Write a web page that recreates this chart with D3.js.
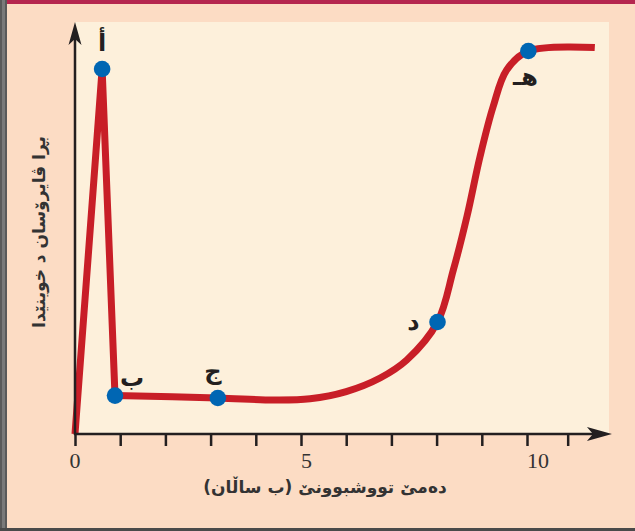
<!DOCTYPE html>
<html><head><meta charset="utf-8">
<script src="https://cdn.jsdelivr.net/npm/d3@7"></script>
<style>html,body{margin:0;padding:0;background:#fcdcc4;} svg{display:block;}</style>
</head><body>
<script>
// ---- data ----
const spikeX = [0, 0.6, 0.885];
const spikeY = [0, 91.25, 9.6];
const curveX = [0.885, 3.16, 4.4, 5.2, 6.0, 6.75, 7.34, 8.02, 8.37, 8.67, 8.96, 9.25, 9.55, 10.03, 11.5];
const curveY = [9.6, 9.0, 8.5, 8.8, 10.6, 14, 18.5, 28, 41, 54.3, 69.3, 81.8, 91, 95.75, 96.6];
const pointLabels = ["أ", "ب", "ج", "د", "هـ"];
const pointX = [0.6, 0.885, 3.16, 8.02, 10.03];
const pointY = [91.25, 9.6, 9.0, 28, 95.75];
const tickValues = [0, 1, 2, 3, 4, 5, 6, 7, 8, 9, 10, 10.9];
const tickLabels = [0, 5, 10];
const xTitle = "دەمێ تووشبوونێ (ب ساڵان)";
const yTitle = "بڕا ڤایرۆسان د خوینێدا";
const xAxisEnd = 11.88, yAxisEnd = 103;

// ---- layout / style ----
const W = 635, H = 531;
const labelOffsets = [[0, -26], [17, -18], [-5, -27], [-24, 0], [-3, 26]];
const ink = "#231f20";

const svg = d3.select("body").append("svg").attr("width", W).attr("height", H);

// frame
svg.append("rect").attr("x", 0).attr("y", 0).attr("width", W).attr("height", H).attr("fill", "#fcdcc4");
svg.append("rect").attr("x", 0).attr("y", 0).attr("width", W).attr("height", 4).attr("fill", "#b5264f");
svg.append("rect").attr("x", 0).attr("y", 0).attr("width", 7).attr("height", H).attr("fill", "#5a5a5a");
svg.append("rect").attr("x", 2).attr("y", 0).attr("width", 3).attr("height", H).attr("fill", "#7a7a7a");
svg.append("rect").attr("x", 0).attr("y", H - 3).attr("width", W).attr("height", 3).attr("fill", "#4a4a4a");

const x = d3.scaleLinear().domain([0, 10]).range([75, 527]);
const y = d3.scaleLinear().domain([0, 100]).range([434, 34]);

// plot area
svg.append("rect")
  .attr("x", x(0)).attr("y", y(yAxisEnd))
  .attr("width", 609 - x(0)).attr("height", y(0) - y(yAxisEnd))
  .attr("fill", "#fdf0db");

// curve
const lineLin = d3.line().x(d => x(d[0])).y(d => y(d[1]));
const lineSmooth = d3.line().x(d => x(d[0])).y(d => y(d[1])).curve(d3.curveCatmullRom.alpha(0.5));
const spike = spikeX.map((v, i) => [v, spikeY[i]]);
const curve = curveX.map((v, i) => [v, curveY[i]]);
svg.append("path").attr("d", lineLin(spike)).attr("fill", "none")
  .attr("stroke", "#c81e27").attr("stroke-width", 7).attr("stroke-linejoin", "round");
svg.append("path").attr("d", lineSmooth(curve)).attr("fill", "none")
  .attr("stroke", "#c81e27").attr("stroke-width", 7).attr("stroke-linejoin", "round");

// axes
const gx = svg.append("g").attr("transform", `translate(0,${y(0)})`)
  .call(d3.axisBottom(x).tickValues(tickValues).tickSize(12).tickFormat(""));
gx.select(".domain").remove();
gx.selectAll(".tick line").attr("stroke", ink).attr("stroke-width", 2.5);

svg.append("line").attr("x1", x(0) - 1).attr("x2", x(xAxisEnd) - 10)
  .attr("y1", y(0)).attr("y2", y(0)).attr("stroke", ink).attr("stroke-width", 2.5);
svg.append("line").attr("x1", x(0)).attr("x2", x(0))
  .attr("y1", y(0) + 1).attr("y2", y(yAxisEnd) + 10).attr("stroke", ink).attr("stroke-width", 2.5);

// arrowheads
const tx = x(xAxisEnd), ty = y(0);
svg.append("path").attr("fill", ink)
  .attr("d", `M${tx},${ty} L${tx - 25},${ty - 7} L${tx - 19},${ty} L${tx - 25},${ty + 7} Z`);
const ax = x(0), ay = y(yAxisEnd);
svg.append("path").attr("fill", ink)
  .attr("d", `M${ax},${ay} L${ax - 6.5},${ay + 23} L${ax},${ay + 17} L${ax + 6.5},${ay + 23} Z`);

// tick labels
svg.selectAll("text.tl").data(tickLabels).enter().append("text")
  .attr("class", "tl")
  .attr("x", d => x(d) + d * 1.1).attr("y", 468)
  .attr("text-anchor", "middle")
  .attr("font-family", "'Liberation Serif', 'DejaVu Serif', serif").attr("font-size", 22)
  .attr("fill", "#333").text(d => d);

// points
svg.selectAll("circle.pt").data(pointX).enter().append("circle")
  .attr("class", "pt")
  .attr("cx", d => x(d)).attr("cy", (d, i) => y(pointY[i])).attr("r", 8.3)
  .attr("fill", "#0066b3");

svg.selectAll("text.pl").data(pointLabels).enter().append("text")
  .attr("class", "pl")
  .attr("x", (d, i) => x(pointX[i]) + labelOffsets[i][0])
  .attr("y", (d, i) => y(pointY[i]) + labelOffsets[i][1])
  .attr("text-anchor", "middle").attr("dominant-baseline", "central")
  .attr("font-family", "'DejaVu Sans', sans-serif").attr("font-weight", "bold")
  .attr("font-size", 24).attr("fill", ink).text(d => d);

// titles
svg.append("text").attr("x", 325).attr("y", 493)
  .attr("text-anchor", "middle").attr("direction", "rtl")
  .attr("font-family", "'DejaVu Sans', sans-serif").attr("font-weight", "bold")
  .attr("font-size", 17).attr("fill", "#333").text(xTitle);

svg.append("text").attr("transform", "translate(45,232) rotate(-90)")
  .attr("text-anchor", "middle").attr("direction", "rtl")
  .attr("font-family", "'DejaVu Sans', sans-serif").attr("font-weight", "bold")
  .attr("font-size", 17).attr("fill", "#333").text(yTitle);
</script>
</body></html>
